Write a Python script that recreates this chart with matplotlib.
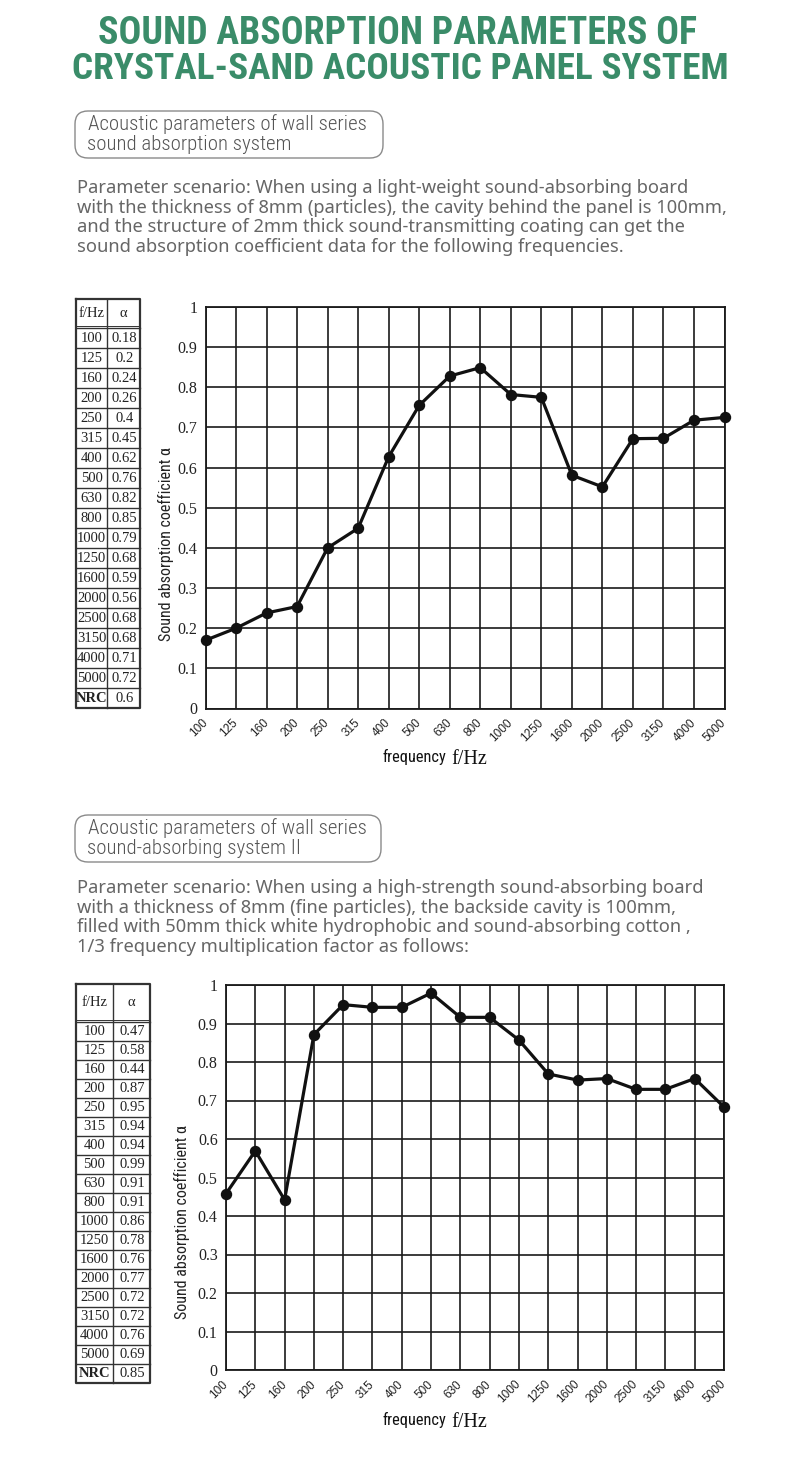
import matplotlib
matplotlib.use('Agg')
import matplotlib.pyplot as plt
from matplotlib import font_manager
from matplotlib.patches import FancyBboxPatch


def pick(*names):
    for n in names:
        try:
            font_manager.findfont(font_manager.FontProperties(family=n), fallback_to_default=False)
            return n
        except Exception:
            pass
    return 'DejaVu Sans'


NARROW = pick('Liberation Sans Narrow', 'Roboto Condensed', 'Open Sans Condensed', 'Roboto')
SANS = pick('Noto Sans', 'Open Sans', 'DejaVu Sans')
ARIAL = pick('Liberation Sans', 'DejaVu Sans')
SERIF = pick('Liberation Serif', 'DejaVu Serif')

# ---------------- data ----------------
freqs = ['100', '125', '160', '200', '250', '315', '400', '500', '630', '800',
         '1000', '1250', '1600', '2000', '2500', '3150', '4000', '5000']
y_ticks = [0, 0.1, 0.2, 0.3, 0.4, 0.5, 0.6, 0.7, 0.8, 0.9, 1]
y_tick_labels = ['0', '0.1', '0.2', '0.3', '0.4', '0.5', '0.6', '0.7', '0.8', '0.9', '1']

table1_alpha = ['0.18', '0.2', '0.24', '0.26', '0.4', '0.45', '0.62', '0.76', '0.82', '0.85',
                '0.79', '0.68', '0.59', '0.56', '0.68', '0.68', '0.71', '0.72']
nrc1 = '0.6'
curve1 = [0.17, 0.20, 0.238, 0.254, 0.40, 0.449, 0.627, 0.755, 0.828, 0.849,
          0.782, 0.775, 0.581, 0.552, 0.672, 0.673, 0.718, 0.725]

table2_alpha = ['0.47', '0.58', '0.44', '0.87', '0.95', '0.94', '0.94', '0.99', '0.91', '0.91',
                '0.86', '0.78', '0.76', '0.77', '0.72', '0.72', '0.76', '0.69']
nrc2 = '0.85'
curve2 = [0.458, 0.569, 0.442, 0.871, 0.949, 0.942, 0.942, 0.979, 0.916, 0.916,
          0.857, 0.769, 0.753, 0.757, 0.729, 0.729, 0.757, 0.683]

title_lines = ['SOUND ABSORPTION PARAMETERS OF', 'CRYSTAL-SAND ACOUSTIC PANEL SYSTEM']
box1_lines = ['Acoustic parameters of wall series', 'sound absorption system']
para1_lines = ['Parameter scenario: When using a light-weight sound-absorbing board',
               'with the thickness of 8mm (particles), the cavity behind the panel is 100mm,',
               'and the structure of 2mm thick sound-transmitting coating can get the',
               'sound absorption coefficient data for the following frequencies.']
box2_lines = ['Acoustic parameters of wall series', 'sound-absorbing system II']
para2_lines = ['Parameter scenario: When using a high-strength sound-absorbing board',
               'with a thickness of 8mm (fine particles), the backside cavity is 100mm,',
               'filled with 50mm thick white hydrophobic and sound-absorbing cotton ,',
               '1/3 frequency multiplication factor as follows:']

GREEN = '#3a8c69'
TXT = '#555555'
LINE = '#1a1a1a'

W, H = 800, 1460
fig = plt.figure(figsize=(W / 100, H / 100), dpi=100)
fig.patch.set_facecolor('white')

bg = fig.add_axes([0, 0, 1, 1])
bg.set_xlim(0, W)
bg.set_ylim(H, 0)
bg.axis('off')


def px_axes(l, t, r, b):
    return fig.add_axes([l / W, 1 - b / H, (r - l) / W, (b - t) / H])


# ---------------- title ----------------
bg.text(398, 34, title_lines[0], ha='center', va='center', color=GREEN,
        fontsize=27.3, fontweight='bold', family=NARROW)
bg.text(400, 69, title_lines[1], ha='center', va='center', color=GREEN,
        fontsize=26.8, fontweight='bold', family=NARROW)


def header_box(x0, y0, x1, y1, lines, para, py0):
    box = FancyBboxPatch((x0, y0), x1 - x0, y1 - y0,
                         boxstyle='round,pad=0,rounding_size=13',
                         fc='none', ec='#8a8a8a', lw=1.0)
    bg.add_patch(box)
    bg.text(x0 + 13, y0 + 13, lines[0], ha='left', va='center', color=TXT,
            fontsize=15, family=NARROW, fontweight='light')
    bg.text(x0 + 12, y0 + 33, lines[1], ha='left', va='center', color=TXT,
            fontsize=15, family=NARROW, fontweight='light')
    for i, ln in enumerate(para):
        bg.text(77, py0 + i * 19.7, ln, ha='left', va='center', color='#666666',
                fontsize=13.2, family=SANS)


header_box(75, 111, 383, 158, box1_lines, para1_lines, 188)
header_box(75, 815, 381, 862, box2_lines, para2_lines, 888)


# ---------------- tables ----------------
def draw_table(x0, xm, x1, top, hdr_bottom, row_h, alphas, nrc):
    labels = freqs + ['NRC']
    vals = alphas + [nrc]
    n = len(labels)
    bottom = hdr_bottom + n * row_h
    kw = dict(color='#333333', lw=1.0)
    bg.plot([x0, x1, x1, x0, x0], [top, top, bottom, bottom, top], color='#333333', lw=1.6)
    bg.plot([xm, xm], [top, bottom], **kw)
    bg.plot([x0, x1], [hdr_bottom, hdr_bottom], **kw)
    bg.plot([x0, x1], [hdr_bottom - 2, hdr_bottom - 2], color='#333333', lw=0.7)
    for i in range(1, n):
        y = hdr_bottom + i * row_h
        bg.plot([x0, x1], [y, y], **kw)
    hy = (top + hdr_bottom) / 2
    bg.text((x0 + xm) / 2, hy, 'f/Hz', ha='center', va='center', fontsize=10.5,
            family=SERIF, color='#222222')
    bg.text((xm + x1) / 2, hy, 'α', ha='center', va='center', fontsize=10.5,
            family=SERIF, color='#222222')
    for i, (lab, v) in enumerate(zip(labels, vals)):
        cy = hdr_bottom + (i + 0.5) * row_h
        bg.text((x0 + xm) / 2, cy, lab, ha='center', va='center', fontsize=10.5,
                family=SERIF, color='#222222', fontweight='bold' if lab == 'NRC' else 'normal')
        bg.text((xm + x1) / 2 + 1, cy, v, ha='center', va='center', fontsize=10.5,
                family=SERIF, color='#222222')


draw_table(76, 107, 140, 299, 328, 20.0, table1_alpha, nrc1)
draw_table(76, 113, 150, 984, 1022, 19.0, table2_alpha, nrc2)


# ---------------- charts ----------------
def draw_chart(l, t, r, b, values, ylab_x, ylab_cy, xlab_y):
    ax = px_axes(l, t, r, b)
    ax.set_facecolor('none')
    x = list(range(len(freqs)))
    ax.plot(x, values, color='#111111', lw=2.3, marker='o', ms=7.2,
            mfc='#111111', mec='#111111', clip_on=False, zorder=5)
    ax.set_xlim(0, len(freqs) - 1)
    ax.set_ylim(0, 1)
    ax.set_xticks(x)
    ax.set_xticklabels(freqs, rotation=45, ha='right', va='center',
                       rotation_mode='anchor', fontsize=8.5, family=ARIAL, color='#222222')
    ax.set_yticks(y_ticks)
    ax.set_yticklabels(y_tick_labels, fontsize=11.5, family=SERIF, color='#222222')
    ax.tick_params(axis='both', length=0)
    ax.tick_params(axis='x', pad=9)
    ax.tick_params(axis='y', pad=6)
    ax.grid(True, color=LINE, lw=1.2)
    for s in ax.spines.values():
        s.set_color(LINE)
        s.set_linewidth(1.3)
    ax.set_ylabel('Sound absorption coefficient α', family=NARROW, fontsize=11.5,
                  color='#222222')
    ax.yaxis.set_label_coords((ylab_x - l) / (r - l), 1 - (ylab_cy - t) / (b - t))
    bg.text(446, xlab_y, 'frequency', ha='right', va='baseline', fontsize=11.8,
            family=NARROW, color='#111111')
    bg.text(451, xlab_y + 2, 'f/Hz', ha='left', va='baseline', fontsize=14.5,
            family=SERIF, color='#111111')
    return ax


draw_chart(205.5, 307, 724.5, 708.5, curve1, 174, 544, 762)
draw_chart(226, 985, 724, 1370, curve2, 190, 1222, 1425)

fig.savefig('out.png', dpi=100, facecolor='white')
